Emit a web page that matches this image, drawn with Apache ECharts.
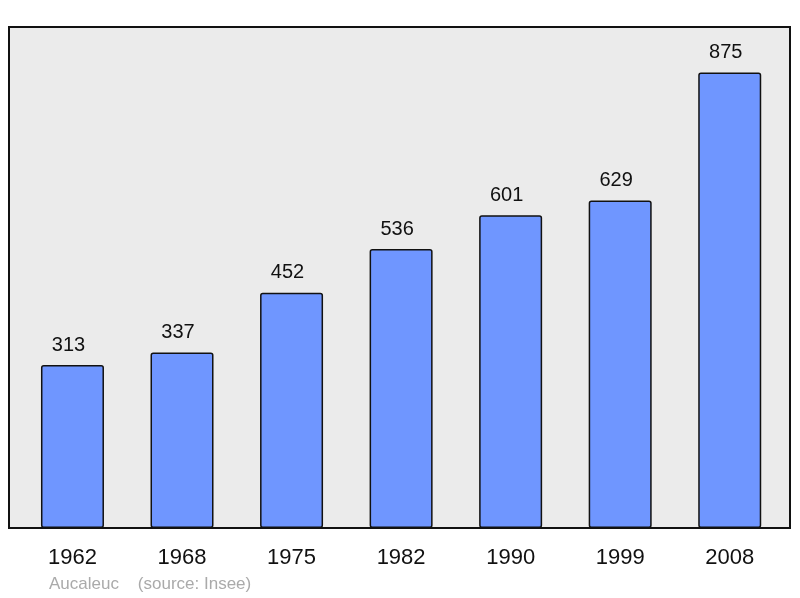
<!DOCTYPE html>
<html>
<head>
<meta charset="utf-8">
<script src="https://cdn.jsdelivr.net/npm/echarts@6/dist/echarts.min.js"></script>
<style>
  html, body { margin: 0; padding: 0; background: #fff; }
  #main { width: 800px; height: 598px; }
</style>
</head>
<body>
<div id="main"></div>
<script>
// census years and population
var years = ['1962', '1968', '1975', '1982', '1990', '1999', '2008'];
var population = [313, 337, 452, 536, 601, 629, 875];
var townName = 'Aucaleuc';
var sourceNote = '(source: Insee)';

var myChart = echarts.init(document.getElementById('main'));

var option = {
    backgroundColor: '#ffffff',
    animation: false,
    textStyle: { fontFamily: 'Liberation Sans, Arial, sans-serif' },
    grid: [
        // frame / background
        { left: 9, top: 27, width: 781, height: 501, show: true,
          backgroundColor: '#ebebeb', borderColor: '#111', borderWidth: 2, z: 0 },
        // bars
        { left: 17.7, right: 15.5, top: 27, height: 501 }
    ],
    xAxis: [
        { gridIndex: 0, type: 'value', show: false, min: 0, max: 1 },
        {
            gridIndex: 1,
            type: 'category',
            data: years,
            axisLine: { show: false },
            axisTick: { show: false },
            axisLabel: { color: '#111', fontSize: 22, margin: 19 }
        }
    ],
    yAxis: [
        { gridIndex: 0, type: 'value', show: false, min: 0, max: 1 },
        {
            gridIndex: 1,
            type: 'value',
            min: 0,
            max: 962.5,
            show: false
        }
    ],
    title: {
        text: townName + '    ' + sourceNote,
        left: 44,
        top: 571,
        textStyle: { color: '#aaaaaa', fontSize: 17, fontWeight: 'normal' }
    },
    series: [{
        type: 'bar',
        xAxisIndex: 1,
        yAxisIndex: 1,
        data: population,
        barWidth: 63,
        itemStyle: {
            color: '#6f96ff',
            borderColor: '#111',
            borderWidth: 1.5,
            borderRadius: 2
        },
        label: {
            show: true,
            position: 'top',
            distance: 10,
            offset: [-4, 0],
            color: '#111',
            fontSize: 20
        }
    }]
};

myChart.setOption(option);
</script>
</body>
</html>
